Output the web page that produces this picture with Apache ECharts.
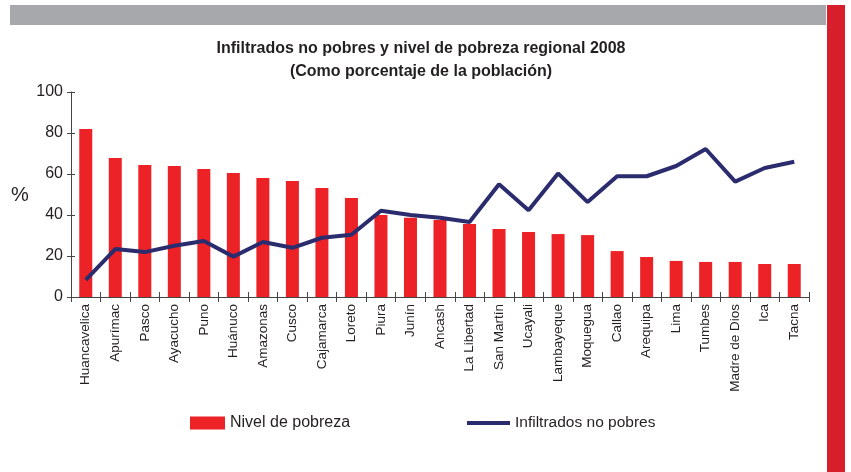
<!DOCTYPE html>
<html>
<head>
<meta charset="utf-8">
<script src="https://cdn.jsdelivr.net/npm/echarts@6/dist/echarts.min.js"></script>
<style>
  html, body { margin: 0; padding: 0; background: #fff; }
  #chart { width: 851px; height: 472px; }
</style>
</head>
<body>
<div id="chart"></div>
<script>
// regiones (eje x)
var regiones = ['Huancavelica', 'Apurímac', 'Pasco', 'Ayacucho', 'Puno', 'Huánuco', 'Amazonas', 'Cusco',
  'Cajamarca', 'Loreto', 'Piura', 'Junín', 'Ancash', 'La Libertad', 'San Martín', 'Ucayali',
  'Lambayeque', 'Moquegua', 'Callao', 'Arequipa', 'Lima', 'Tumbes', 'Madre de Dios', 'Ica', 'Tacna'];

// Nivel de pobreza (barras)
var pobreza = [82.0, 67.8, 64.4, 63.9, 62.4, 60.5, 58.0, 56.6, 53.2, 48.3, 40.0, 38.7, 37.6,
  35.6, 33.2, 31.7, 30.7, 30.2, 22.4, 19.5, 17.6, 17.1, 17.1, 16.1, 16.1];

// Infiltrados no pobres (linea)
var infiltrados = [8.3, 23.4, 21.9, 25.0, 27.3, 19.7, 26.8, 24.0, 28.9, 30.4, 42.1, 40.0, 38.7,
  36.6, 55.0, 42.3, 60.3, 46.3, 58.9, 58.9, 63.9, 72.2, 56.3, 62.9, 66.0];

var yTicks = [0, 20, 40, 60, 80, 100];

var myChart = echarts.init(document.getElementById('chart'));

var font = 'Liberation Sans, Arial, sans-serif';
var tickColor = '#444';

var option = {
  animation: false,
  backgroundColor: '#fff',
  textStyle: { fontFamily: font, color: '#231f20' },
  title: {
    text: 'Infiltrados no pobres y nivel de pobreza regional 2008\n(Como porcentaje de la población)',
    left: 416,
    top: 32,
    textAlign: 'center',
    textStyle: { fontSize: 16, fontWeight: 'bold', color: '#231f20', lineHeight: 23, fontFamily: font }
  },
  graphic: [
    { type: 'rect', shape: { x: 10, y: 5, width: 816, height: 20 }, style: { fill: '#a7a8ab' } }, // 상단 회색 띠
    { type: 'rect', shape: { x: 827, y: 5, width: 18, height: 467 }, style: { fill: '#d71f2b' } }, // 우측 빨간 띠
    { type: 'text', left: 11, top: 185, style: { text: '%', fontSize: 20, fill: '#231f20', fontFamily: font } }
  ],
  legend: [
    {
      left: 185,
      top: 410,
      itemWidth: 35,
      itemHeight: 13,
      itemGap: 4,
      textStyle: { fontSize: 16, color: '#231f20', fontFamily: font },
      data: [{ name: 'Nivel de pobreza', icon: 'rect' }]
    },
    {
      left: 462,
      top: 410,
      itemWidth: 43,
      itemHeight: 4,
      textStyle: { fontSize: 15.5, color: '#231f20', fontFamily: font },
      data: [{ name: 'Infiltrados no pobres', icon: 'rect' }]
    }
  ],
  grid: { left: 71, right: 42, top: 92, bottom: 175 },
  xAxis: [
    {
      type: 'category',
      data: regiones,
      boundaryGap: true,
      axisLine: { lineStyle: { color: tickColor, width: 1 } },
      axisTick: { show: true, interval: 0, length: 5, lineStyle: { color: tickColor } },
      axisLabel: { rotate: 90, fontSize: 13.5, color: '#231f20', margin: 7, interval: 0, fontFamily: font }
    },
    {
      type: 'category',
      data: regiones,
      position: 'bottom',
      boundaryGap: true,
      axisLine: { show: false },
      axisTick: { show: true, interval: 0, inside: true, length: 5, lineStyle: { color: tickColor } },
      axisLabel: { show: false }
    }
  ],
  yAxis: [
    {
      type: 'value',
      min: 0,
      max: 100,
      interval: 20,
      axisLine: { show: true, lineStyle: { color: tickColor } },
      axisTick: { show: true, length: 4, lineStyle: { color: tickColor } },
      splitLine: { show: false },
      axisLabel: {
        fontSize: 16, color: '#231f20', margin: 8, fontFamily: font,
        formatter: function (v) { return yTicks.indexOf(v) >= 0 ? String(v) : ''; }
      }
    },
    {
      type: 'value',
      position: 'left',
      min: 0,
      max: 100,
      interval: 20,
      axisLine: { show: false },
      axisTick: { show: true, inside: true, length: 4, lineStyle: { color: tickColor } },
      splitLine: { show: false },
      axisLabel: { show: false }
    }
  ],
  series: [
    {
      name: 'Nivel de pobreza',
      type: 'bar',
      data: pobreza,
      barWidth: 13,
      itemStyle: { color: '#ec2227' }
    },
    {
      name: 'Infiltrados no pobres',
      type: 'line',
      data: infiltrados,
      symbol: 'none',
      lineStyle: { color: '#2b2c6e', width: 4 },
      itemStyle: { color: '#2b2c6e' }
    }
  ]
};

myChart.setOption(option);
</script>
</body>
</html>
